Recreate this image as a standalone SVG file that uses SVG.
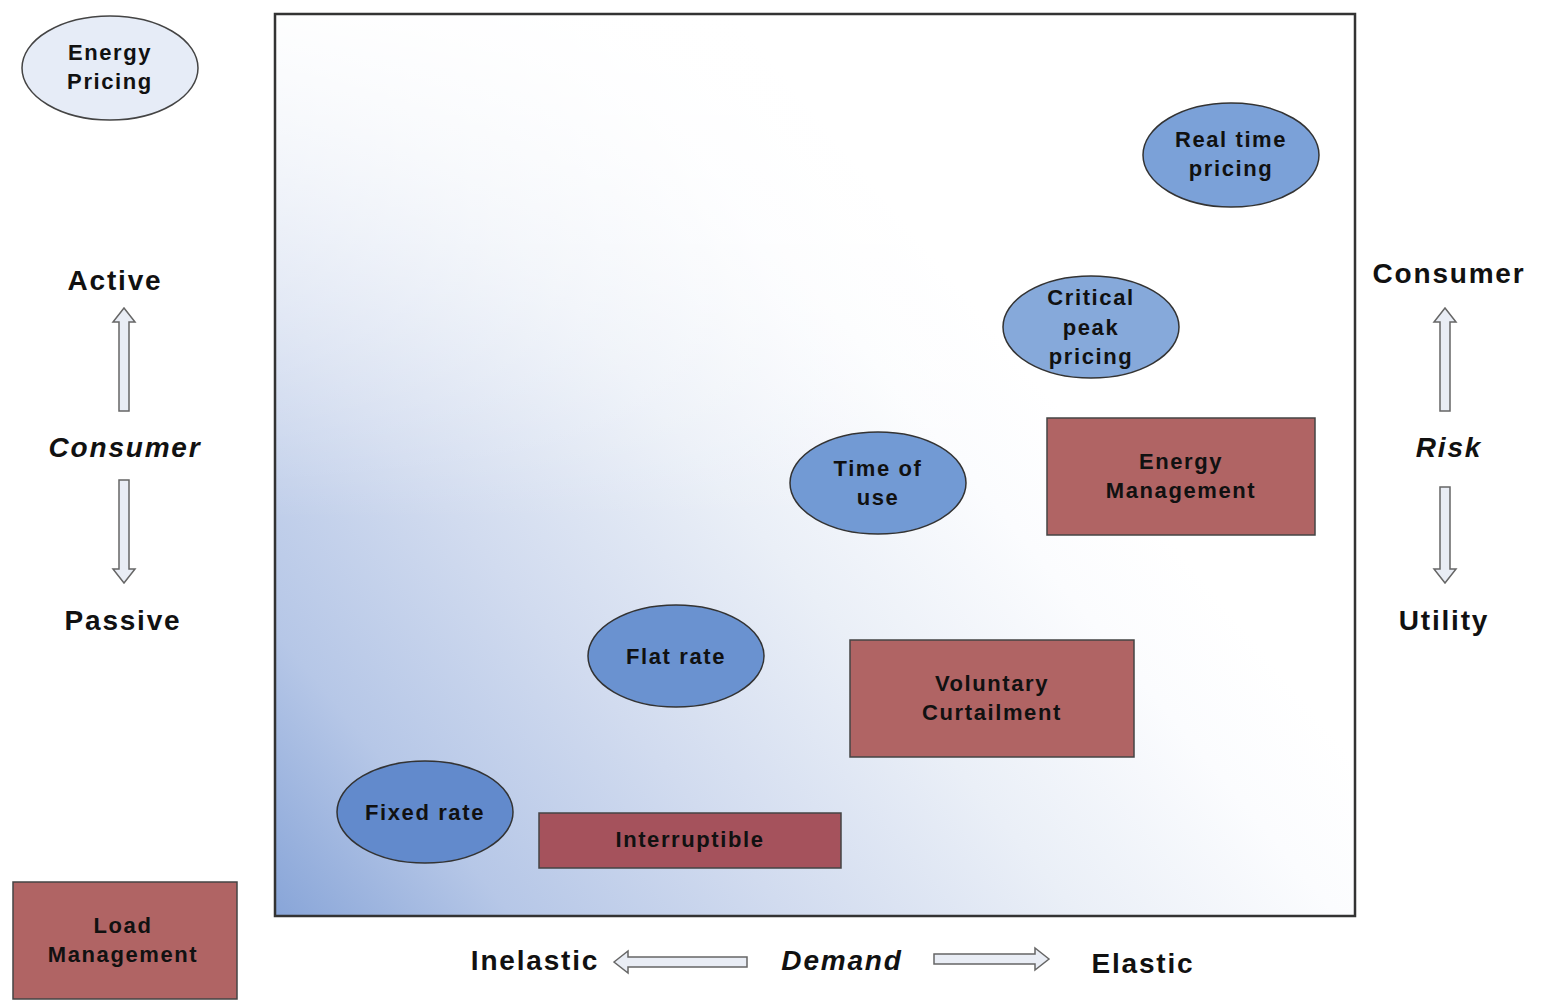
<svg xmlns="http://www.w3.org/2000/svg" width="1543" height="1003" viewBox="0 0 1543 1003">
<style>
.lbl{font-family:"Liberation Sans",Arial,sans-serif;font-weight:bold;font-size:22px;letter-spacing:1.6px;fill:#111;text-anchor:middle}
.ax{font-family:"Liberation Sans",Arial,sans-serif;font-weight:bold;font-size:28px;letter-spacing:1.8px;fill:#111;text-anchor:middle}
.it{font-style:italic}
.ell{fill:#6f96d2;stroke:#333;stroke-width:1.5}
.box{fill:#b06464;stroke:#444;stroke-width:1.5}
.arr{fill:#e9edf5;stroke:#666;stroke-width:1.5}
</style>
<defs>
<linearGradient id="bg" gradientUnits="userSpaceOnUse" x1="275" y1="916" x2="1355" y2="14">
<stop offset="0" stop-color="#88a5d8"/>
<stop offset="0.13" stop-color="#b6c7e7"/>
<stop offset="0.28" stop-color="#d1dbef"/>
<stop offset="0.44" stop-color="#eaeff7"/>
<stop offset="0.58" stop-color="#fbfcfe"/>
<stop offset="0.66" stop-color="#ffffff"/>
<stop offset="1" stop-color="#ffffff"/>
</linearGradient>
<linearGradient id="topfade" gradientUnits="userSpaceOnUse" x1="0" y1="14" x2="0" y2="520">
<stop offset="0" stop-color="#ffffff" stop-opacity="0.95"/>
<stop offset="0.4" stop-color="#ffffff" stop-opacity="0.55"/>
<stop offset="1" stop-color="#ffffff" stop-opacity="0"/>
</linearGradient>
</defs>
<rect width="1543" height="1003" fill="#ffffff"/>
<rect x="275" y="14" width="1080" height="902" fill="url(#bg)"/>
<rect x="275" y="14" width="1080" height="902" fill="url(#topfade)"/>
<rect id="frame" x="275" y="14" width="1080" height="902" fill="none" stroke="#333" stroke-width="2.5"/>

<g id="energy-pricing">
<ellipse cx="110" cy="68" rx="88" ry="52" fill="#e6ecf7" stroke="#444" stroke-width="1.5"/>
<text class="lbl" x="110" y="60">Energy</text>
<text class="lbl" x="110" y="89">Pricing</text>
</g>
<g id="real-time-pricing">
<ellipse class="ell" cx="1231" cy="155" rx="88" ry="52" style="fill:#7ba1d8"/>
<text class="lbl" x="1231" y="147">Real time</text>
<text class="lbl" x="1231" y="176">pricing</text>
</g>
<g id="critical-peak-pricing">
<ellipse class="ell" cx="1091" cy="327" rx="88" ry="51" style="fill:#86a9da"/>
<text class="lbl" x="1091" y="305">Critical</text>
<text class="lbl" x="1091" y="335">peak</text>
<text class="lbl" x="1091" y="364">pricing</text>
</g>
<g id="time-of-use">
<ellipse class="ell" cx="878" cy="483" rx="88" ry="51" style="fill:#729ad4"/>
<text class="lbl" x="878" y="476">Time of</text>
<text class="lbl" x="878" y="505">use</text>
</g>
<g id="flat-rate">
<ellipse class="ell" cx="676" cy="656" rx="88" ry="51" style="fill:#6a92d0"/>
<text class="lbl" x="676" y="664">Flat rate</text>
</g>
<g id="fixed-rate">
<ellipse class="ell" cx="425" cy="812" rx="88" ry="51" style="fill:#628acc"/>
<text class="lbl" x="425" y="820">Fixed rate</text>
</g>

<g id="energy-management">
<rect class="box" x="1047" y="418" width="268" height="117"/>
<text class="lbl" x="1181" y="469">Energy</text>
<text class="lbl" x="1181" y="498">Management</text>
</g>
<g id="voluntary-curtailment">
<rect class="box" x="850" y="640" width="284" height="117"/>
<text class="lbl" x="992" y="691">Voluntary</text>
<text class="lbl" x="992" y="720">Curtailment</text>
</g>
<g id="interruptible">
<rect class="box" x="539" y="813" width="302" height="55" style="fill:#a5525c"/>
<text class="lbl" x="690" y="847">Interruptible</text>
</g>
<g id="load-management">
<rect class="box" x="13" y="882" width="224" height="117"/>
<text class="lbl" x="123" y="933">Load</text>
<text class="lbl" x="123" y="962">Management</text>
</g>

<g id="axis-labels">
<text class="ax" x="115" y="290">Active</text>
<text class="ax it" x="125" y="457">Consumer</text>
<text class="ax" x="123" y="630">Passive</text>
<text class="ax" x="1449" y="283">Consumer</text>
<text class="ax it" x="1449" y="457">Risk</text>
<text class="ax" x="1444" y="630">Utility</text>
<text class="ax" x="535" y="970">Inelastic</text>
<text class="ax it" x="842" y="970">Demand</text>
<text class="ax" x="1143" y="973">Elastic</text>
</g>

<g id="connectors">
<polygon class="arr" points="124,308 135,322 129,322 129,411 119,411 119,322 113,322"/>
<polygon class="arr" points="124,583 135,569 129,569 129,480 119,480 119,569 113,569"/>
<polygon class="arr" points="1445,308 1456,322 1450,322 1450,411 1440,411 1440,322 1434,322"/>
<polygon class="arr" points="1445,583 1456,569 1450,569 1450,487 1440,487 1440,569 1434,569"/>
<polygon class="arr" points="614,962 628,951 628,957 747,957 747,967 628,967 628,973"/>
<polygon class="arr" points="1049,959 1035,948 1035,954 934,954 934,964 1035,964 1035,970"/>
</g>
</svg>
